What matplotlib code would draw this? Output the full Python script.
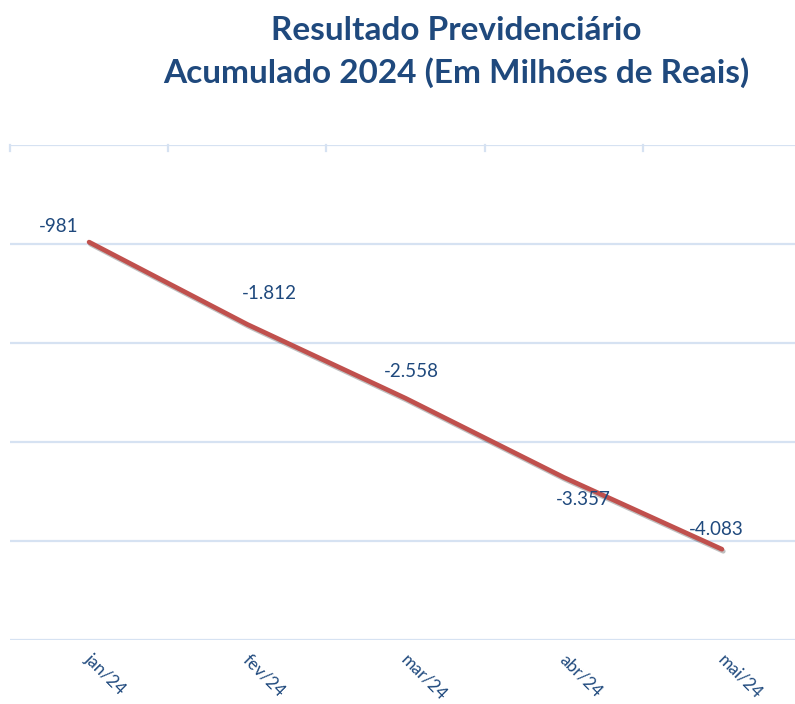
import matplotlib.pyplot as plt
import matplotlib.patheffects as pe

# data
months = ['jan/24', 'fev/24', 'mar/24', 'abr/24', 'mai/24']
values = [-981, -1812, -2558, -3357, -4083]
label_offsets = [(-22, 11), (16, 22), (4, 19), (14, -16), (-4, 14)]

navy = '#1F497D'
grid_col = '#D6E2F2'
plt.rcParams['font.family'] = ['Lato', 'DejaVu Sans']

fig = plt.figure(figsize=(7.95, 7.04), dpi=100)
ax = fig.add_axes([10 / 795, 1 - 640 / 704, 791 / 795, 495 / 704])

x = list(range(len(months)))
ax.plot(x, values, color='#C0504D', lw=3.4, solid_capstyle='round', zorder=3,
        path_effects=[pe.SimpleLineShadow(offset=(1, -1.5), alpha=0.25), pe.Normal()])

for xi, v, off in zip(x, values, label_offsets):
    ax.annotate(f'{v:,}'.replace(',', '.'), (xi, v), xytext=off, textcoords='offset points',
                ha='center', va='center', fontsize=13.5, color=navy, zorder=4)

ax.set_xlim(-0.5, 4.5)
ax.set_ylim(-5000, 0)
ax.set_yticks(range(-5000, 1, 1000))
ax.yaxis.grid(True, color=grid_col, lw=1.6)
ax.set_axisbelow(True)
ax.tick_params(axis='y', length=0, labelleft=False)
for s in ax.spines.values():
    s.set_visible(False)

# category axis sits at zero (top), labels placed low
ax.set_xticks([-0.5, 0.5, 1.5, 2.5, 3.5, 4.5])
ax.xaxis.set_ticks_position('top')
ax.tick_params(axis='x', direction='out', length=0, labeltop=False)
for b in [-0.5, 0.5, 1.5, 2.5, 3.5]:
    ax.plot([b, b], [0, -60], color=grid_col, lw=1.6, clip_on=False)

for xi, m in zip(x, months):
    ax.annotate(m, (xi, -5000), xytext=(-1, -12), textcoords='offset points',
                rotation=-45, rotation_mode='anchor', ha='left', va='center',
                fontsize=12.5, color=navy, annotation_clip=False)

fig.text(456 / 795, 1 - 30 / 704, 'Resultado Previdenciário', ha='center', va='center',
         fontsize=24, fontweight='bold', color=navy)
fig.text(456 / 795, 1 - 73 / 704, 'Acumulado 2024 (Em Milhões de Reais)', ha='center', va='center',
         fontsize=24, fontweight='bold', color=navy)

fig.savefig('out.png', dpi=100)
